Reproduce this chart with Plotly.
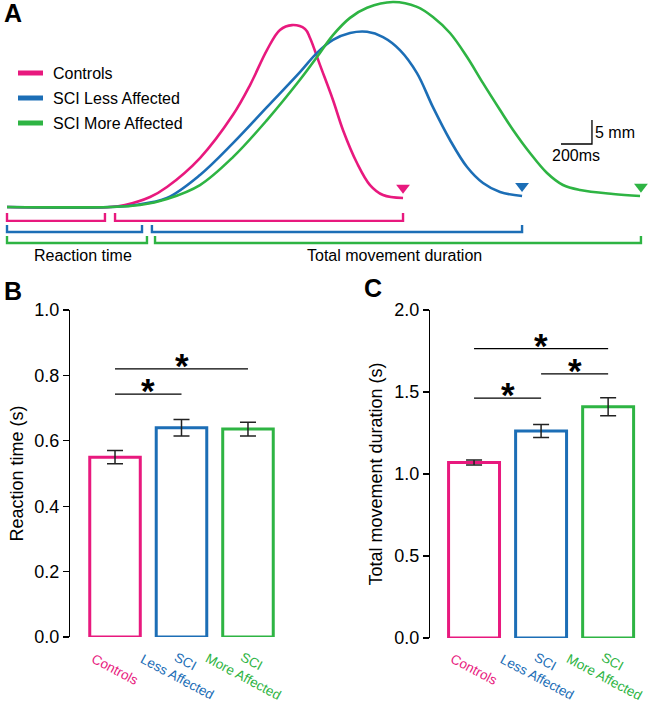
import plotly.graph_objects as go

FONT = "Liberation Sans, Arial, sans-serif"
W, H = 650, 703

# ---------------- data ----------------
groups = ["Controls", "SCI Less Affected", "SCI More Affected"]
cat_labels = ["Controls", "SCI<br>Less Affected", "SCI<br>More Affected"]
colors = ["#E8197E", "#1C6EB6", "#2EB443"]

# Panel A: example displacement traces (time in ms, displacement in mm)
ctrl_t = [0, 665, 761, 923, 1032, 1245, 1458, 1568, 1677, 1761, 1839, 1923, 1955, 2019, 2103, 2168, 2258, 2342, 2426, 2555]
ctrl_d = [0, 0, 0.42, 2.08, 4.17, 10.2, 19.2, 25.4, 32.7, 36.9, 37.9, 37.1, 35.2, 29.6, 22.3, 16.0, 9.17, 4.58, 2.5, 1.88]

less_t = [0, 665, 826, 1032, 1245, 1458, 1677, 1890, 2000, 2103, 2213, 2323, 2426, 2535, 2645, 2748, 2858, 2968, 3071, 3181, 3323]
less_d = [0, 0, 0.42, 1.88, 6.67, 13.3, 20.8, 28.1, 32.1, 34.8, 36.25, 36.5, 35.4, 32.7, 27.9, 20.8, 13.96, 8.33, 5.0, 3.13, 2.29]

more_t = [0, 665, 858, 1032, 1245, 1458, 1677, 1890, 2000, 2103, 2213, 2323, 2490, 2645, 2748, 2858, 2968, 3071, 3181, 3265, 3374, 3484, 3587, 3697, 3910, 4084]
more_d = [0, 0, 0.42, 1.67, 4.58, 10.4, 18.1, 26.5, 31.25, 35.8, 39.4, 41.5, 42.7, 41.7, 39.6, 36.25, 31.25, 25.8, 20.2, 16.04, 11.25, 7.08, 4.58, 3.54, 2.71, 2.29]

# end-of-movement markers (ms, mm)
end_t = [2555, 3323, 4090]
end_d = [4.0, 4.4, 4.2]

# reaction-time / movement-duration bracket limits (ms)
rt_end = [632, 871, 903]
mt_start = [697, 935, 955]
mt_end = [2555, 3323, 4090]
bracket_top = [-1.25, -3.75, -6.04]
bracket_bot = [-2.9, -5.2, -7.5]

# Panel B: reaction time (s)
rt_mean = [0.55, 0.64, 0.636]
rt_err = [0.02, 0.025, 0.021]
rt_sig = [(0, 1, 0.743), (0, 2, 0.82)]

# Panel C: total movement duration (s)
mt_mean = [1.07, 1.262, 1.41]
mt_err = [0.015, 0.04, 0.055]
mt_sig = [(0, 1, 1.463), (1, 2, 1.61), (0, 2, 1.765)]

rt_ticks = [0.0, 0.2, 0.4, 0.6, 0.8, 1.0]
mt_ticks = [0.0, 0.5, 1.0, 1.5, 2.0]

# ---------------- figure ----------------
fig = go.Figure()

def px_x(p):
    return p / W

def px_y(p):
    return 1 - p / H

# Panel A traces
for t, d, c, name in [(ctrl_t, ctrl_d, colors[0], groups[0]),
                      (less_t, less_d, colors[1], groups[1]),
                      (more_t, more_d, colors[2], groups[2])]:
    fig.add_trace(go.Scatter(x=t, y=d, mode="lines", line=dict(color=c, width=2.6, shape="spline", smoothing=1.0),
                             name=name, showlegend=False, xaxis="x", yaxis="y", hoverinfo="skip"))
fig.add_trace(go.Scatter(x=end_t, y=end_d, mode="markers",
                         marker=dict(symbol="triangle-down", size=12, color=colors, line=dict(width=0)),
                         showlegend=False, xaxis="x", yaxis="y", hoverinfo="skip", cliponaxis=False))

shapes = []
# brackets
for i in range(3):
    for a, b in [(0, rt_end[i]), (mt_start[i], mt_end[i])]:
        shapes.append(dict(type="path", xref="x", yref="y",
                           path=f"M {a},{bracket_top[i]} L {a},{bracket_bot[i]} L {b},{bracket_bot[i]} L {b},{bracket_top[i]}",
                           line=dict(color=colors[i], width=2.4)))
# scale bar: 200 ms x 5 mm
sb_t0, sb_d0 = 3574, 13.125
shapes.append(dict(type="path", xref="x", yref="y",
                   path=f"M {sb_t0},{sb_d0} L {sb_t0 + 200},{sb_d0} L {sb_t0 + 200},{sb_d0 + 5}",
                   line=dict(color="black", width=1.3)))

annotations = []
annotations.append(dict(x=sb_t0 + 200, y=sb_d0 + 2.5, xref="x", yref="y", text="5 mm", showarrow=False,
                        xanchor="left", yanchor="middle", xshift=1, font=dict(size=16, color="black", family=FONT)))
annotations.append(dict(x=sb_t0 + 100, y=sb_d0, xref="x", yref="y", text="200ms", showarrow=False,
                        xanchor="center", yanchor="top", yshift=-1, font=dict(size=16, color="black", family=FONT)))

# custom legend
for i, lbl in enumerate(groups):
    yy = 73 + 25 * i
    shapes.append(dict(type="line", xref="paper", yref="paper", x0=px_x(18), x1=px_x(43),
                       y0=px_y(yy), y1=px_y(yy), line=dict(color=colors[i], width=5)))
    annotations.append(dict(x=px_x(51), y=px_y(yy), xref="paper", yref="paper", text=lbl, showarrow=False,
                            xanchor="left", yanchor="middle", font=dict(size=16, color="black", family=FONT)))

annotations.append(dict(x=px_x(83), y=px_y(256), xref="paper", yref="paper", text="Reaction time", showarrow=False,
                        xanchor="center", yanchor="middle", font=dict(size=16, color="black", family=FONT)))
annotations.append(dict(x=px_x(394), y=px_y(256), xref="paper", yref="paper", text="Total movement duration",
                        showarrow=False, xanchor="center", yanchor="middle", font=dict(size=16, color="black", family=FONT)))

# panel letters
for letter, xx, yy in [("A", 2, 13), ("B", 2, 291), ("C", 362, 288)]:
    annotations.append(dict(x=px_x(xx), y=px_y(yy), xref="paper", yref="paper", text=f"<b>{letter}</b>",
                            showarrow=False, xanchor="left", yanchor="middle",
                            font=dict(size=25, color="black", family=FONT)))

# Panels B and C bars
for vals, errs, xa, ya in [(rt_mean, rt_err, "x2", "y2"), (mt_mean, mt_err, "x3", "y3")]:
    fig.add_trace(go.Bar(x=[0, 1, 2], y=vals, width=0.76, xaxis=xa, yaxis=ya,
                         marker=dict(color="white", line=dict(color=colors, width=3)),
                         error_y=dict(type="data", array=errs, visible=True, color="#222222", thickness=1.5, width=8),
                         showlegend=False, hoverinfo="skip"))

# significance lines
for sigs, xa, ya in [(rt_sig, "x2", "y2"), (mt_sig, "x3", "y3")]:
    for a, b, yv in sigs:
        shapes.append(dict(type="line", xref=xa, yref=ya, x0=a, x1=b, y0=yv, y1=yv,
                           line=dict(color="black", width=1.3)))
        annotations.append(dict(x=(a + b) / 2, y=yv, xref=xa, yref=ya, text="<b>*</b>", showarrow=False,
                                xanchor="center", yanchor="bottom", yshift=-18,
                                font=dict(size=35, color="black", family=FONT)))

# category labels
for xa in ["x2", "x3"]:
    for i, lbl in enumerate(cat_labels):
        annotations.append(dict(x=i, y=px_y(669), xref=xa, yref="paper", text=lbl, showarrow=False,
                                textangle=28, xanchor="center", yanchor="middle",
                                font=dict(size=13.5, color=colors[i], family=FONT)))

axis_common = dict(showgrid=False, zeroline=False, automargin=False)
yax_common = dict(showgrid=False, zeroline=False, automargin=False, showline=True, linecolor="black", linewidth=1.2,
                  ticks="outside", ticklen=6, tickcolor="black", tickwidth=1.2, tickformat=".1f",
                  tickfont=dict(size=18, color="black", family=FONT))

fig.update_layout(
    width=W, height=H, margin=dict(l=0, r=0, t=0, b=0, pad=0, autoexpand=False),
    paper_bgcolor="white", plot_bgcolor="white",
    font=dict(family=FONT, color="black"),
    showlegend=False, hovermode=False,
    xaxis=dict(domain=[0, 1], range=[-45.2, 4148.4], visible=False, **axis_common),
    yaxis=dict(domain=[px_y(270), 1], range=[-13.125, 43.125], visible=False, **axis_common),
    xaxis2=dict(domain=[px_x(70), px_x(290)], range=[-0.677, 2.632], visible=False, anchor="y2", **axis_common),
    yaxis2=dict(domain=[px_y(637), px_y(310)], range=[0, 1.0], anchor="x2", tickvals=rt_ticks,
                title=dict(text="Reaction time (s)", font=dict(size=18, family=FONT, color="black"), standoff=5),
                **yax_common),
    xaxis3=dict(domain=[px_x(430), px_x(645)], range=[-0.657, 2.55], visible=False, anchor="y3", **axis_common),
    yaxis3=dict(domain=[px_y(638), px_y(310)], range=[0, 2.0], anchor="x3", tickvals=mt_ticks,
                title=dict(text="Total movement duration (s)", font=dict(size=18, family=FONT, color="black"), standoff=6),
                **yax_common),
    shapes=shapes,
    annotations=annotations,
)

# remove the browser's default 8px body margin so the 650x703 figure fills the window exactly
fig.write_html("out.html", config={"displayModeBar": False, "staticPlot": True},
               post_script="document.body.style.margin='0px';")
